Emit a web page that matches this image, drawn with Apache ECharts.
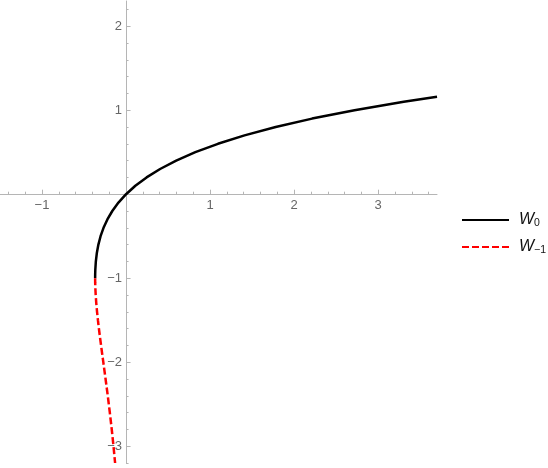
<!DOCTYPE html>
<html>
<head>
<meta charset="utf-8">
<script src="https://cdn.jsdelivr.net/npm/echarts@6/dist/echarts.min.js"></script>
<style>html,body{margin:0;padding:0;background:#fff}#c{width:548px;height:468px}</style>
</head>
<body>
<div id="c"></div>
<script>
// Principal branch W0: x values and W values
var w0X = [-0.3679, -0.3678, -0.3674, -0.3659, -0.3595, -0.3476, -0.3293, -0.3033, -0.2681, -0.2222, -0.1637, -0.0905, 0, 0.1105, 0.2443, 0.4050, 0.5967, 0.8244, 1.0933, 1.4096, 1.7804, 2.2136, 2.7183, 3.3046, 3.7003];
var w0Y = [-1.0, -0.98, -0.95, -0.9, -0.8, -0.7, -0.6, -0.5, -0.4, -0.3, -0.2, -0.1, 0, 0.1, 0.2, 0.3, 0.4, 0.5, 0.6, 0.7, 0.8, 0.9, 1.0, 1.1, 1.16];
// Lower branch W-1
var wm1X = [-0.3679, -0.3678, -0.3674, -0.3662, -0.3614, -0.3543, -0.3452, -0.3347, -0.3230, -0.3106, -0.2975, -0.2842, -0.2707, -0.2438, -0.2177, -0.1931, -0.1703, -0.1494, -0.1304];
var wm1Y = [-1.0, -1.02, -1.05, -1.1, -1.2, -1.3, -1.4, -1.5, -1.6, -1.7, -1.8, -1.9, -2.0, -2.2, -2.4, -2.6, -2.8, -3.0, -3.2];
var seriesNames = ['W0', 'W-1'];
var xTickLabels = [-1, 1, 2, 3];
var yTickLabels = [-3, -2, -1, 1, 2];

var X_MIN = -1.5, X_MAX = 3.7, Y_MIN = -3.2, Y_MAX = 2.3;
var GL = 0, GT = 1, GW = 437, GH = 462;
var zeroX = GL + (0 - X_MIN) / (X_MAX - X_MIN) * GW;
var zeroY = GT + (Y_MAX - 0) / (Y_MAX - Y_MIN) * GH;

function pairs(xs, ys){ return xs.map(function(x,i){ return [x, ys[i]]; }); }
function minors(lo, hi){ var out=[]; for (var i=lo;i<=hi;i++){ if (i%5!==0) out.push(i/5); } return out; }
function fmt(v){ return String(v).replace('-', '\u2212'); }

var axisColor = '#b5b5b5';
var labelStyle = { color: '#666', fontSize: 13, fontFamily: 'Liberation Sans' };
var hidden = { show: false };

function hx(gi){ return { type: 'value', gridIndex: gi, min: X_MIN, max: X_MAX, show: false }; }
function hy(gi){ return { type: 'value', gridIndex: gi, min: Y_MIN, max: Y_MAX, show: false }; }

var grids = [
  { left: GL, top: GT, width: GW, height: GH },                       // 0 plot
  { left: GL, top: GT, width: GW, height: zeroY - GT },               // 1 x major
  { left: GL, top: GT, width: GW, height: zeroY - GT },               // 2 x minor
  { left: zeroX, top: GT, width: GL + GW - zeroX, height: GH },       // 3 y major
  { left: zeroX, top: GT, width: GL + GW - zeroX, height: GH }        // 4 y minor
];
grids.forEach(function(g){ g.containLabel = false; g.outerBoundsMode = 'none'; });

var chart = echarts.init(document.getElementById('c'));
chart.setOption({
  animation: false,
  grid: grids,
  xAxis: [
    hx(0),
    { type: 'value', gridIndex: 1, min: X_MIN, max: X_MAX, position: 'bottom',
      axisLine: { show: true, onZero: false, lineStyle: { color: axisColor, width: 1 } },
      axisTick: { show: true, inside: true, length: 4.5, customValues: xTickLabels, lineStyle: { color: axisColor } },
      axisLabel: Object.assign({ customValues: xTickLabels, margin: 5, formatter: fmt }, labelStyle),
      splitLine: hidden },
    { type: 'value', gridIndex: 2, min: X_MIN, max: X_MAX, position: 'bottom',
      axisLine: { show: false, onZero: false },
      axisTick: { show: true, inside: true, length: 2.5, customValues: minors(-7, 18), lineStyle: { color: axisColor } },
      axisLabel: hidden, splitLine: hidden },
    { type: 'value', gridIndex: 3, min: 0, max: X_MAX, show: false },
    { type: 'value', gridIndex: 4, min: 0, max: X_MAX, show: false }
  ],
  yAxis: [
    hy(0), hy(1), hy(2),
    { type: 'value', gridIndex: 3, min: Y_MIN, max: Y_MAX, position: 'left',
      axisLine: { show: true, onZero: false, lineStyle: { color: axisColor, width: 1 } },
      axisTick: { show: true, inside: true, length: 4.5, customValues: yTickLabels, lineStyle: { color: axisColor } },
      axisLabel: Object.assign({ customValues: yTickLabels, margin: 4, formatter: fmt }, labelStyle),
      splitLine: hidden },
    { type: 'value', gridIndex: 4, min: Y_MIN, max: Y_MAX, position: 'left',
      axisLine: { show: false, onZero: false },
      axisTick: { show: true, inside: true, length: 2.5, customValues: minors(-16, 11), lineStyle: { color: axisColor } },
      axisLabel: hidden, splitLine: hidden }
  ],
  legend: {
    orient: 'vertical', left: 456, top: 207, itemWidth: 47, itemHeight: 14, itemGap: 10,
    data: seriesNames,
    itemStyle: { opacity: 0 },
    formatter: function(n){ return n === 'W0' ? '{w|W}{s|0}' : '{w|W}{s|\u22121}'; },
    textStyle: {
      color: '#111', padding: [0,0,0,5],
      rich: {
        w: { fontSize: 16, fontStyle: 'italic', fontFamily: 'Liberation Sans', color: '#111', lineHeight: 18, verticalAlign: 'middle' },
        s: { fontSize: 10.5, fontFamily: 'Liberation Sans', color: '#111', lineHeight: 18, verticalAlign: 'bottom', padding: [5,0,0,0] }
      }
    }
  },
  series: [
    { name: seriesNames[0], type: 'line', data: pairs(w0X, w0Y), showSymbol: false, symbol: 'none',
      lineStyle: { color: '#000', width: 2.5 }, itemStyle: { color: '#000' }, xAxisIndex: 0, yAxisIndex: 0, z: 3 },
    { name: seriesNames[1], type: 'line', data: pairs(wm1X, wm1Y), showSymbol: false, symbol: 'none',
      lineStyle: { color: '#ff0000', width: 2.5, type: [7, 3] }, itemStyle: { color: '#ff0000' }, xAxisIndex: 0, yAxisIndex: 0, z: 3 }
  ]
});
</script>
</body>
</html>
